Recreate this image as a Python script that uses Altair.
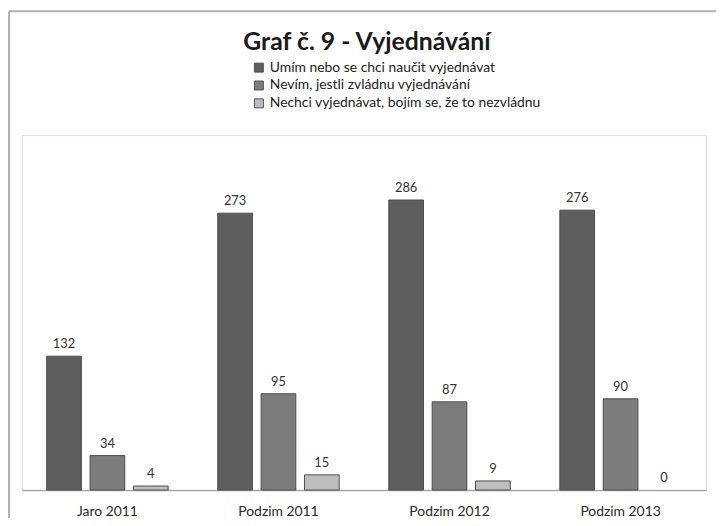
import altair as alt
import pandas as pd

periods = ["Jaro 2011", "Podzim 2011", "Podzim 2012", "Podzim 2013"]
series = [
    "Umím nebo se chci naučit vyjednávat",
    "Nevím, jestli zvládnu vyjednávání",
    "Nechci vyjednávat, bojím se, že to nezvládnu",
]
umim = [132, 273, 286, 276]
nevim = [34, 95, 87, 90]
nechci = [4, 15, 9, 0]
colors = ["#5e5e5e", "#7c7c7c", "#bebebe"]
title_text = "Graf č. 9 - Vyjednávání"

rows = []
for i, p in enumerate(periods):
    for s, vals in zip(series, [umim, nevim, nechci]):
        rows.append({"obdobi": p, "serie": s, "hodnota": vals[i]})
df = pd.DataFrame(rows)

W, H = 690, 358
PAD_L, PAD_T, PAD_R, PAD_B = 14, 126, 10, 26

x = alt.X(
    "obdobi:N",
    sort=periods,
    scale=alt.Scale(paddingInner=0.29, paddingOuter=0.145),
    axis=alt.Axis(
        title=None, labelAngle=0, ticks=False, domainColor="#a8a8a8",
        domainWidth=1.5, labelPadding=15, labelFontSize=14,
        labelColor="#2a2a2a", labelFont="Lato",
    ),
)
xo = alt.XOffset("serie:N", sort=series, scale=alt.Scale(paddingInner=0.2, paddingOuter=0))
y = alt.Y("hodnota:Q", scale=alt.Scale(domain=[0, 350]), axis=None)

bars = alt.Chart(df).mark_bar(stroke="#4e4e4e", strokeWidth=1).encode(
    x=x,
    xOffset=xo,
    y=y,
    strokeOpacity=alt.condition(alt.datum.hodnota > 0, alt.value(1), alt.value(0)),
    fill=alt.Fill(
        "serie:N",
        sort=series,
        scale=alt.Scale(domain=series, range=colors),
        legend=alt.Legend(
            title=None, orient="none", legendX=232, legendY=-75,
            symbolType="square", symbolSize=81, symbolStrokeColor="#4e4e4e",
            symbolStrokeWidth=1, labelFont="Lato", labelFontSize=14,
            labelColor="#222222", rowPadding=4, labelOffset=4, padding=0,
            labelLimit=400,
        ),
    ),
)

labels = alt.Chart(df).mark_text(
    baseline="alphabetic", dy=-8, font="Lato", fontSize=13, color="#333333"
).encode(x=x, xOffset=xo, y=y, text="hodnota:Q")

frame_df = pd.DataFrame({"k": [0]})
top_line = alt.Chart(frame_df).mark_rule(color="#b2b2b2", strokeWidth=2).encode(
    x=alt.value(-13), x2=alt.value(W + PAD_R + 5), y=alt.value(-PAD_T + 1)
)
left_line = alt.Chart(frame_df).mark_rule(color="#b2b2b2", strokeWidth=2).encode(
    x=alt.value(-13), y=alt.value(-PAD_T + 1), y2=alt.value(H + PAD_B + 5)
)
title_mark = alt.Chart(pd.DataFrame({"t": [title_text]})).mark_text(
    font="Lato", fontSize=25, fontWeight="bold", color="#1a1a1a",
    align="center", baseline="alphabetic",
).encode(x=alt.value(348), y=alt.value(-86), text="t:N")

chart = (
    alt.layer(bars, labels, top_line, left_line, title_mark)
    .properties(
        width=W,
        height=H,
        autosize=alt.AutoSizeParams(type="none"),
        padding={"left": PAD_L, "top": PAD_T, "right": PAD_R, "bottom": PAD_B},
    )
    .configure_view(fill="#efefef", stroke=None)
    .configure(background="white")
)

chart.save("out.html", embed_options={"renderer": "svg", "actions": False})
